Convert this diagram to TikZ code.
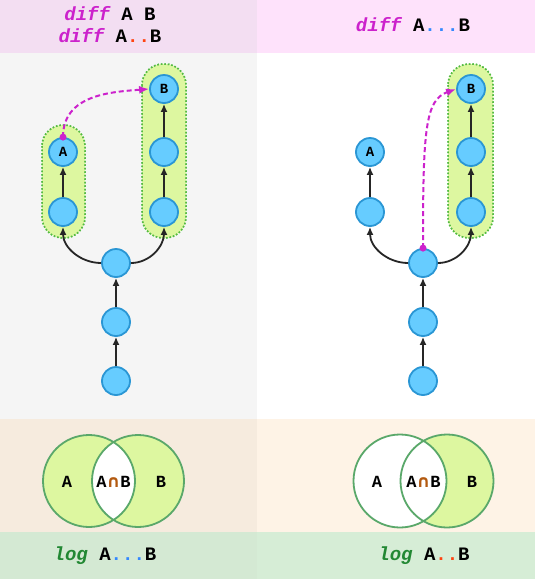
\documentclass[tikz,border=0pt]{standalone}
\usepackage{fontspec}
\setmonofont{Liberation Mono}
\newfontfamily\capfont{DejaVu Sans}
\usetikzlibrary{arrows.meta}
\definecolor{hdrL}{HTML}{F3DEF2}
\definecolor{hdrR}{HTML}{FEE2FB}
\definecolor{midL}{HTML}{F5F5F5}
\definecolor{midR}{HTML}{FFFFFF}
\definecolor{venL}{HTML}{F6EBDE}
\definecolor{venR}{HTML}{FEF3E6}
\definecolor{botL}{HTML}{D4E9D3}
\definecolor{botR}{HTML}{D6EDD6}
\definecolor{nodefill}{HTML}{66CCFF}
\definecolor{nodedraw}{HTML}{2A96D4}
\definecolor{hlfill}{HTML}{DDF7A0}
\definecolor{hldraw}{HTML}{55BB44}
\definecolor{vdraw}{HTML}{5AA86A}
\definecolor{magen}{HTML}{CC22CC}
\definecolor{logc}{HTML}{228833}
\definecolor{reddot}{HTML}{FF4411}
\definecolor{bluedot}{HTML}{3388FF}
\definecolor{capc}{HTML}{B35A10}
\newcommand{\mycmdw}[1]{{\color{magen}\itshape #1}}
\newcommand{\mylogw}[1]{{\color{logc}\itshape #1}}
\newcommand{\myrdots}{{\color{reddot}..}}
\newcommand{\mybdots}{{\color{bluedot}...}}
\newcommand{\mycapAB}{A{\color{capc}\capfont\bfseries\char"2229}B}
\begin{document}
\begin{tikzpicture}[x=1pt,y=-1pt,
  commit/.style={circle,fill=nodefill,draw=nodedraw,line width=1.8pt,minimum size=28pt,inner sep=0pt,font=\ttfamily\bfseries\fontsize{14}{14}\selectfont},
  hl/.style={fill=hlfill,draw=hldraw,dotted,line width=1.5pt,rounded corners=21pt},
  edge/.style={-{Latex[length=8pt,width=7pt]},line width=1.8pt,black!85},
  ref/.style={magen,dash pattern=on 5pt off 3pt,line width=2pt,-{Latex[length=10pt,width=8pt]}},
  hdr/.style={font=\ttfamily\bfseries\fontsize{19}{19}\selectfont},
  vlab/.style={font=\ttfamily\bfseries\fontsize{17}{17}\selectfont},
  vc/.style={draw=vdraw,line width=1.8pt}]
\useasboundingbox (0,0) rectangle (535,579);
% backgrounds
\fill[hdrL] (0,0) rectangle (257,53);
\fill[hdrR] (257,0) rectangle (535,53);
\fill[midL] (0,53) rectangle (257,419);
\fill[midR] (257,53) rectangle (535,419);
\fill[venL] (0,419) rectangle (257,532);
\fill[venR] (257,419) rectangle (535,532);
\fill[botL] (0,532) rectangle (257,579);
\fill[botR] (257,532) rectangle (535,579);
% headers
\node[hdr] (h1) at (110,14) {\mycmdw{diff} A B};
\node[hdr] (h2) at (110,36) {\mycmdw{diff} A\myrdots B};
\node[hdr] (h3) at (413,25) {\mycmdw{diff} A\mybdots B};
% highlights
\fill[hl] (42,125) rectangle (85,238);
\fill[hl] (142,64) rectangle (186,238);
\fill[hl] (448,64) rectangle (493,238);
\draw[hl,fill=none] (42,125) rectangle (85,238);
\draw[hl,fill=none] (142,64) rectangle (186,238);
\draw[hl,fill=none] (448,64) rectangle (493,238);
% left graph
\node[commit] (l1) at (116,381) {};
\node[commit] (l2) at (116,322) {};
\node[commit] (lm) at (116,263) {};
\node[commit] (la1) at (63,212) {};
\node[commit] (lA) at (63,152) {A};
\node[commit] (lb1) at (164,212) {};
\node[commit] (lb2) at (164,152) {};
\node[commit] (lB) at (164,89) {B};
\draw[edge] (l1) -- (l2);
\draw[edge] (l2) -- (lm);
\draw[edge] (lm.west) to[out=180,in=-90] (la1.south);
\draw[edge] (lm.east) to[out=0,in=-90] (lb1.south);
\draw[edge] (la1) -- (lA);
\draw[edge] (lb1) -- (lb2);
\draw[edge] (lb2) -- (lB);
\fill[magen] (lA.north) circle (3.5pt);
\draw[ref] (lA.north) .. controls (63,95) and (110,92) .. (lB.west);
% right graph
\node[commit] (r1) at (423,381) {};
\node[commit] (r2) at (423,322) {};
\node[commit] (rm) at (423,263) {};
\node[commit] (ra1) at (370,212) {};
\node[commit] (rA) at (370,152) {A};
\node[commit] (rb1) at (471,212) {};
\node[commit] (rb2) at (471,152) {};
\node[commit] (rB) at (471,89) {B};
\draw[edge] (r1) -- (r2);
\draw[edge] (r2) -- (rm);
\draw[edge] (rm.west) to[out=180,in=-90] (ra1.south);
\draw[edge] (rm.east) to[out=0,in=-90] (rb1.south);
\draw[edge] (ra1) -- (rA);
\draw[edge] (rb1) -- (rb2);
\draw[edge] (rb2) -- (rB);
\fill[magen] (rm.north) circle (3.5pt);
\draw[ref] (rm.north) .. controls (423,130) and (425,100) .. (rB.west);
% venn left
\coordinate (vlA) at (89,481);
\coordinate (vlB) at (138,481);
\fill[hlfill] (vlA) circle (46);
\fill[hlfill] (vlB) circle (46);
\begin{scope}
\clip (vlA) circle (46);
\fill[white] (vlB) circle (46);
\end{scope}
\draw[vc] (vlA) circle (46);
\draw[vc] (vlB) circle (46);
\node[vlab] (tlA) at (67,482) {A};
\node[vlab] (tlAB) at (113.5,482) {\mycapAB};
\node[vlab] (tlB) at (161,482) {B};
% venn right
\coordinate (vrA) at (400,481);
\coordinate (vrB) at (447,481);
\fill[white] (vrA) circle (46.5);
\fill[hlfill] (vrB) circle (46.5);
\begin{scope}
\clip (vrA) circle (46.5);
\fill[white] (vrB) circle (46.5);
\end{scope}
\draw[vc] (vrA) circle (46.5);
\draw[vc] (vrB) circle (46.5);
\node[vlab] (trA) at (377,482) {A};
\node[vlab] (trAB) at (423.5,482) {\mycapAB};
\node[vlab] (trB) at (472,482) {B};
% bottom
\node[hdr] (b1) at (105,556) {\mylogw{log} A\mybdots B};
\node[hdr] (b2) at (424,556) {\mylogw{log} A\myrdots B};
\end{tikzpicture}
\end{document}
